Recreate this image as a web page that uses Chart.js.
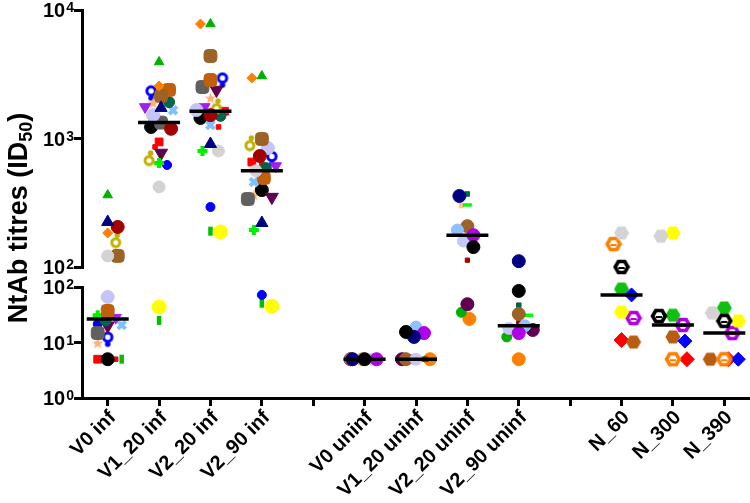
<!DOCTYPE html>
<html><head><meta charset="utf-8">
<script src="https://cdn.jsdelivr.net/npm/chart.js@4.4.1/dist/chart.umd.min.js"></script>
<style>html,body{margin:0;padding:0;background:#fff;}canvas{display:block;}</style>
</head><body>
<canvas id="c" width="750" height="503"></canvas>
<script>
// ---------------- DATA ----------------
const categories = ['V0 inf','V1_20 inf','V2_20 inf','V2_90 inf','','V0 uninf','V1_20 uninf','V2_20 uninf','V2_90 uninf','','N_60','N_300','N_390'];
const yTicksTop = [100, 1000, 10000];
const yTicksBottom = [1, 10, 100];
const yTitle = ['NtAb titres (ID', '50', ')'];

// infected cohort (one entry per subject, same order in every group)
const infSubjects = ['greenTri','navyTri','darkRed','orangeDia','oliveBulb','greyCircle','brownSq','lavender','darkOrangeSq','greenPlus','darkGreen','purpleInv','plumInv','lightBlueX','greySq','blueCircle','black','redSq','smallRedSq','peachStar','blueKeyhole','yellow','greenRect'];
const V0_inf    = [363, 224, 205, 184, 162, 122, 122, 66, 37, 31, 25, 28, 20, 20.7, 14.8, 21.5, 5, 5, 5, 9.8, 11.5, null, 5];
const V1_20_inf = [3940, 1730, 1190, 2560, 705, 420, 2140, 1520, 2390, 645, 1920, 1760, 771, 1660, 1330, 622, 1230, 940, 860, 1890, 2260, 43.6, 25];
const V2_20_inf = [7780, 906, 1520, 7780, 1790, 800, 4385, 1665, 2852, 800, 1500, 1760, 2385, 1273, 2515, 293, 1445, 1630, 1230, 2065, 2850, 187, 190];
const V2_90_inf = [3065, 220, 731, 2958, 922, 560, 991, 843, 493, 194, 589, 611, 350, 459, 338, 72, 397, 656, 640, 363, 700, 45, 51];

// uninfected cohort
const uninfSubjects = ['black','navy','purple','lightBlue','lavender','brown','darkGreenSq','brightGreenDash','peachSq','darkRedSq','plum','green','orange'];
const V0_uninf    = [5, 5, 5, 5, 5, 5, 5, 5, 5, 5, 5, 5, 5];
const V1_20_uninf = [15.5, 12.6, 14.8, 19, 5, 5, 5, 5, 5, 5, 5, 5, 5];
const V2_20_uninf = [143, 357, 177, 194, 159, 208, 370, 304, 300, 113, 49, 35, 26.6];
const V2_90_uninf = [85, 111, 14.8, 20, 18, 32.6, 47, 31, 19, 23, 16.8, 12.6, 5];

// N cohort
const nSubjects = ['grey','orangeRing','blackRing','blueDia','green','yellow','purpleRing','brown','redDia'];
const N_60  = [184, 151, 100, 72, 92, 35.5, 27.6, 10.2, 11.1];
const N_300 = [174, 5, 30, 10.6, 31, 184, 20.7, 12.6, 5];
const N_390 = [34, 5, 24.5, 5, 42, 24.5, 14.8, 5, 5];

// ---------------- STYLES ----------------
function mk(w, h, draw){ const c=document.createElement('canvas'); c.width=w; c.height=h; draw(c.getContext('2d')); return c; }
function hexPath(g, cx, cy, r){ g.beginPath(); for(let i=0;i<6;i++){const a=Math.PI/3*i; g.lineTo(cx+r*Math.cos(a), cy+r*Math.sin(a));} g.closePath(); }
const hexFill = col => mk(16,16,g=>{hexPath(g,8,8,7.5); g.fillStyle=col; g.fill();});
const hexRing = col => mk(18,18,g=>{hexPath(g,9,9,8.5); g.fillStyle=col; g.fill(); hexPath(g,9,9,4.2); g.fillStyle='#fff'; g.fill(); g.fillStyle=col; g.fillRect(6,9,6,2);});
const starImg = col => mk(13,13,g=>{g.beginPath(); for(let i=0;i<10;i++){const r=i%2?2.6:6; const a=-Math.PI/2+i*Math.PI/5; g.lineTo(6.5+r*Math.cos(a),7+r*Math.sin(a));} g.closePath(); g.fillStyle=col; g.fill();});
const bulbImg = col => mk(14,17,g=>{g.strokeStyle=col; g.lineWidth=3; g.beginPath(); g.arc(7,11,4,0,Math.PI*2); g.stroke(); g.fillStyle=col; g.beginPath(); g.arc(8.5,3.5,2.8,0,Math.PI*2); g.fill();});
const keyImg = col => mk(14,17,g=>{g.strokeStyle=col; g.lineWidth=3; g.beginPath(); g.arc(7,6.5,4.2,0,Math.PI*2); g.stroke(); g.fillStyle=col; g.beginPath(); g.arc(7,13.5,2.8,0,Math.PI*2); g.fill();});
const st = (pointStyle, color, r, extra={}) => Object.assign({pointStyle, color, r, rot:0, bw:1, hitR:r}, extra);

const infStyles = [
  st('triangle','#00b000',5.5),
  st('triangle','#000080',7),
  st('circle','#a00000',6.5),
  st('rectRot','#ff7f00',5),
  st(bulbImg('#c0b000'),'#c0b000',7),
  st('circle','#d3d3d3',6),
  st('rectRounded','#9c6226',7.5,{hitR:6.5}),
  st('circle','#c4c4f6',6.5),
  st('rectRounded','#c0600c',7.5,{hitR:6.5}),
  st('cross','#00f000',5,{bw:4}),
  st('circle','#00664a',5.5),
  st('triangle','#a020f0',6.5,{rot:180}),
  st('triangle','#600050',7.5,{rot:180}),
  st('crossRot','#80c0ff',5.5,{bw:4}),
  st('rectRounded','#606060',7.5,{hitR:6.5}),
  st('circle','#0000ff',4.5),
  st('circle','#000000',6.5),
  st('rect','#ff0000',5.5,{hitR:4.5}),
  st('rect','#ff0000',3.2,{hitR:2.5}),
  st(starImg('#ffb070'),'#ffb070',5),
  st(keyImg('#0000ff'),'#0000ff',7),
  st('circle','#ffff00',7),
  st('line','#00c000',4.5,{rot:90,bw:4.5,hitR:4})
];
const uninfStyles = [
  st('circle','#000000',6.5),
  st('circle','#000080',6.5),
  st('circle','#b000e8',6.5),
  st('circle','#90c0ff',6),
  st('circle','#c8c8f8',6),
  st('circle','#9c6226',6.5),
  st('rect','#006644',3.2,{hitR:2.5}),
  st('line','#00ff00',4.5,{bw:3.5,hitR:4}),
  st('rect','#ffc080',3,{hitR:2.5}),
  st('rect','#a00000',3,{hitR:2.5}),
  st('circle','#600050',6.5),
  st('circle','#00b000',5),
  st('circle','#ff8000',6.5)
];
const nStyles = [
  st(hexFill('#d3d3d3'),'#d3d3d3',7.5),
  st(hexRing('#ff8000'),'#ff8000',8.5),
  st(hexRing('#000000'),'#000000',8.5),
  st('rectRot','#0000ff',7),
  st(hexFill('#10c010'),'#10c010',7.5),
  st(hexFill('#ffff00'),'#ffff00',7.5),
  st(hexRing('#b000e0'),'#b000e0',8.5),
  st(hexFill('#b85c10'),'#b85c10',7.5),
  st('rectRot','#ff0000',7.5)
];

// ---------------- DATASETS ----------------
const datasets = [];
function mkDs(name, s, data, axis){
  return {label:name, data, yAxisID:axis, xAxisID:'x', clip:false,
    pointStyle:s.pointStyle, pointRadius:s.r, pointHoverRadius:s.r, pointRotation:s.rot,
    pointBackgroundColor:s.color, pointBorderColor:s.color, pointBorderWidth:s.bw,
    backgroundColor:s.color, borderColor:s.color, hitR:s.hitR};
}
function addCohort(subjects, styles, groupArrays, groupIdx){
  subjects.forEach((name, si) => {
    const top=[], bot=[];
    groupArrays.forEach((arr,k) => {
      const v = arr[si];
      if (v == null) return;
      const pt = {x: groupIdx[k], y: v, g: groupIdx[k]};
      (v >= 100 ? top : bot).push(pt);
    });
    if (top.length) datasets.push(mkDs(name, styles[si], top, 'yTop'));
    if (bot.length) datasets.push(mkDs(name, styles[si], bot, 'yBot'));
  });
}
const infGroups = [V0_inf, V1_20_inf, V2_20_inf, V2_90_inf];
const uninfGroups = [V0_uninf, V1_20_uninf, V2_20_uninf, V2_90_uninf];
const nGroups = [N_60, N_300, N_390];
addCohort(infSubjects, infStyles, infGroups, [0,1,2,3]);
addCohort(uninfSubjects, uninfStyles, uninfGroups, [5,6,7,8]);
addCohort(nSubjects, nStyles, nGroups, [10,11,12]);

function median(arr){ const a = arr.filter(v=>v!=null).sort((p,q)=>p-q); const n=a.length; return n%2 ? a[(n-1)/2] : (a[n/2-1]+a[n/2])/2; }
const medTop=[], medBot=[];
[[infGroups,[0,1,2,3]],[uninfGroups,[5,6,7,8]],[nGroups,[10,11,12]]].forEach(([gs,idx])=>{
  gs.forEach((arr,k)=>{ const m=median(arr); (m>=100?medTop:medBot).push({x:idx[k], y:m, g:idx[k]}); });
});
const medStyle = {pointStyle:'line', pointRadius:21, pointHoverRadius:21, pointBorderWidth:3.5, pointBorderColor:'#000', pointBackgroundColor:'#000', borderColor:'#000', clip:false, isMedian:true, order:-1, xAxisID:'x'};
datasets.push(Object.assign({label:'median', data:medTop, yAxisID:'yTop'}, medStyle));
datasets.push(Object.assign({label:'median', data:medBot, yAxisID:'yBot'}, medStyle));

// ---------------- CHART ----------------
const FONT = '"Liberation Sans", Arial, sans-serif';
const Y_W = 48;
const TICK_LEN = 8;

// draws the y tick labels as 10 with a raised exponent, and the rotated y title with a subscript
const textPlugin = {
  id:'axisText',
  afterDraw(chart){
    const ctx = chart.ctx;
    ctx.save();
    ctx.fillStyle = '#000';
    ['yTop','yBot'].forEach(id => {
      const s = chart.scales[id];
      s.ticks.forEach(t => {
        const y = s.getPixelForValue(t.value);
        const e = String(Math.round(Math.log10(t.value)));
        const xr = s.right - TICK_LEN;
        ctx.textAlign = 'right'; ctx.textBaseline = 'alphabetic';
        ctx.font = 'bold 14px ' + FONT;
        const ew = ctx.measureText(e).width;
        ctx.fillText(e, xr, y + 2);
        ctx.font = 'bold 20px ' + FONT;
        ctx.fillText('10', xr - ew - 1, y + 7);
      });
    });
    // title
    const main = 'bold 27px ' + FONT, sub = 'bold 18px ' + FONT;
    ctx.font = main; const w1 = ctx.measureText(yTitle[0]).width, w3 = ctx.measureText(yTitle[2]).width;
    ctx.font = sub; const w2 = ctx.measureText(yTitle[1]).width;
    const total = w1 + w2 + w3;
    ctx.translate(27, 218);
    ctx.rotate(-Math.PI/2);
    ctx.textAlign = 'left'; ctx.textBaseline = 'alphabetic';
    let x0 = -total/2;
    ctx.font = main; ctx.fillText(yTitle[0], x0, 0); x0 += w1;
    ctx.font = sub; ctx.fillText(yTitle[1], x0, 5); x0 += w2;
    ctx.font = main; ctx.fillText(yTitle[2], x0, 0);
    ctx.restore();
  }
};

const yCommon = {
  position:'left', stack:'y',
  afterFit: s => { s.width = Y_W; },
  ticks:{display:false},
  grid:{drawOnChartArea:false, tickLength:TICK_LEN, lineWidth:3, tickWidth:3, color:'#000', tickColor:'#000'},
  border:{width:3, color:'#000'}
};
const chart = new Chart(document.getElementById('c'), {
  type:'scatter',
  data:{datasets},
  plugins:[textPlugin],
  options:{
    responsive:false, animation:false, events:[],
    layout:{autoPadding:false, padding:{top:10, right:0, left:34, bottom:0}},
    plugins:{ legend:{display:false}, tooltip:{enabled:false}, title:{display:false} },
    scales:{
      x:{type:'linear', position:'bottom', min:-0.5, max:12.5,
        afterBuildTicks: s => { s.ticks = categories.map((c,i)=>({value:i})); },
        afterFit: s => { s.height = 105; },
        ticks:{callback: v => categories[v] ?? '', autoSkip:false, minRotation:45, maxRotation:45, color:'#000', padding:0, labelOffset:5,
          font:{family:FONT, size:20, weight:'bold'}},
        grid:{drawOnChartArea:false, tickLength:TICK_LEN, lineWidth:3, tickWidth:3, color:'#000', tickColor:'#000'},
        border:{width:3, color:'#000'}
      },
      yTop: Object.assign({}, yCommon, {type:'logarithmic', min:100, max:10000, stackWeight:257, weight:3,
        afterBuildTicks: s => { s.ticks = yTicksTop.map(v=>({value:v})); }}),
      yGap: {type:'linear', position:'left', stack:'y', stackWeight:20, weight:2, min:0, max:1,
        afterFit: s => { s.width = Y_W; },
        ticks:{display:false}, grid:{display:false}, border:{display:false}},
      yBot: Object.assign({}, yCommon, {type:'logarithmic', min:1, max:100, stackWeight:111, weight:1,
        afterBuildTicks: s => { s.ticks = yTicksBottom.map(v=>({value:v})); }})
    }
  }
});

// Spread points horizontally (dodge) so that markers at similar values don't overlap
function dodge(){
  const xs = chart.scales.x;
  const unit = xs.getPixelForValue(1) - xs.getPixelForValue(0);
  const groups = new Map();
  chart.data.datasets.forEach(ds => {
    if (ds.isMedian) return;
    const ys = chart.scales[ds.yAxisID];
    ds.data.forEach(pt => {
      const arr = groups.get(pt.g) || [];
      arr.push({pt, py: ys.getPixelForValue(pt.y), r: ds.hitR});
      groups.set(pt.g, arr);
    });
  });
  groups.forEach((arr, g) => {
    arr.sort((a,b) => a.py - b.py);
    const placed = [];
    arr.forEach((q, n) => {
      let best = 0, bestCost = Infinity;
      for (let k = 0; k <= 14; k += 2) {
        const cands = k === 0 ? [0] : (n % 2 ? [-k, k] : [k, -k]);
        for (const dx of cands) {
          let cost = 0;
          for (const p of placed) {
            const need = (p.r + q.r) * 0.8;
            const d = Math.hypot(p.dx - dx, p.py - q.py);
            if (d < need) cost += need - d;
          }
          if (cost < bestCost - 1e-9) { bestCost = cost; best = dx; }
          if (cost === 0) break;
        }
        if (bestCost === 0) break;
      }
      q.dx = best; placed.push(q);
      q.pt.x = g + best / unit;
    });
  });
  chart.update('none');
}
dodge();
</script>
</body></html>
